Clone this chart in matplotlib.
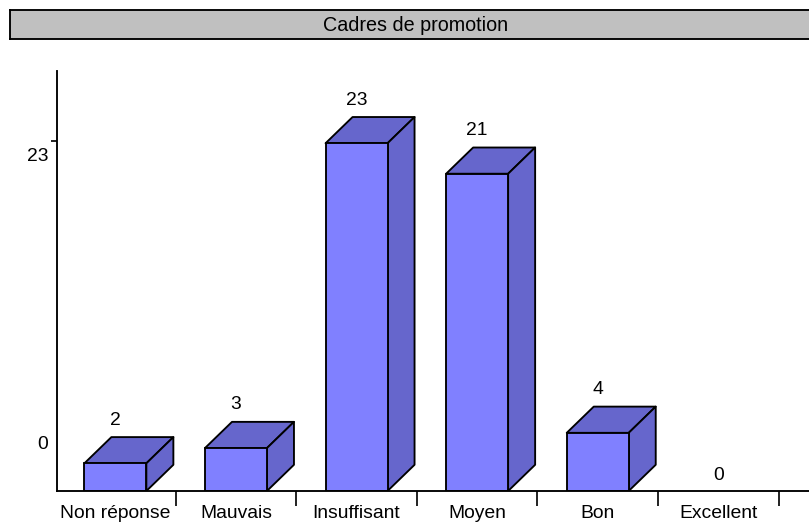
import matplotlib
matplotlib.use("Agg")
import matplotlib.pyplot as plt
from matplotlib.patches import Polygon, Rectangle
from matplotlib.transforms import offset_copy

plt.rcParams['font.family'] = ['Liberation Sans', 'DejaVu Sans']

# Data
categories = ['Non réponse', 'Mauvais', 'Insuffisant', 'Moyen', 'Bon', 'Excellent']
values = [2, 3, 23, 21, 4, 0]
title = 'Cadres de promotion'

FRONT = '#8080FF'
SHADE = '#6666CC'
W, H = 809, 523
FS = 13.9
LW = 1.35

fig = plt.figure(figsize=(W / 100, H / 100), dpi=100)

# Title band
band = fig.add_axes([9.5 / W, 1 - 38.5 / H, (W + 5 - 9.5) / W, 29 / H])
band.set_xticks([])
band.set_yticks([])
band.set_facecolor('#C0C0C0')
for s in band.spines.values():
    s.set_linewidth(LW)
fig.text(415.5 / W, 1 - 25.5 / H, title, ha='center', va='center', fontsize=14.2)

# Plot area
ax = fig.add_axes([57 / W, 32 / H, (W - 57) / W, 420 / H])
ax.set_xlim(-0.484, 5.752)
ax.set_ylim(0.184, 27.74)
ax.patch.set_alpha(0)
ax.spines['top'].set_visible(False)
ax.spines['right'].set_visible(False)
ax.spines['left'].set_linewidth(LW)
ax.spines['bottom'].set_linewidth(LW)

bar_w = 0.514
depth_x = 0.224
depth_y = 1.72
base = ax.get_ylim()[0]

for i, (name, v) in enumerate(zip(categories, values)):
    if v > 0:
        x0, x1 = i - bar_w / 2, i + bar_w / 2
        ax.add_patch(Polygon([(x0, v), (x1, v), (x1 + depth_x, v + depth_y), (x0 + depth_x, v + depth_y)],
                             fc=SHADE, ec='k', lw=LW, joinstyle='round'))
        ax.add_patch(Polygon([(x1, base), (x1, v), (x1 + depth_x, v + depth_y), (x1 + depth_x, base + depth_y)],
                             fc=SHADE, ec='k', lw=LW, joinstyle='round'))
        ax.add_patch(Rectangle((x0, base), bar_w, v - base, fc=FRONT, ec='k', lw=LW))
        ax.annotate(str(v), (i, v + depth_y), xytext=(0, 17 * 0.72), textcoords='offset points',
                    ha='center', va='center', fontsize=FS)
    else:
        ax.annotate(str(v), (i, base), xytext=(0, 15 * 0.72), textcoords='offset points',
                    ha='center', va='center', fontsize=FS)

# x axis: separators between categories, labels centred
ax.set_xticks(range(len(categories)))
ax.set_xticklabels(categories, fontsize=FS)
ax.tick_params(axis='x', which='major', length=0, pad=14 * 0.72)
ax.set_xticks([i + 0.5 for i in range(len(categories))], minor=True)
ax.tick_params(axis='x', which='minor', length=15 * 0.72, width=LW * 0.9)

# y axis: the tick labels sit below the mark, as in the source
ax.set_yticks([23.12])
ax.set_yticklabels([''])
ax.tick_params(axis='y', length=6 * 0.72, width=LW * 0.9)
trans = offset_copy(ax.get_yaxis_transform(), fig=fig, x=-9 * 0.72, y=-13 * 0.72, units='points')
ax.text(0, 23, '23', transform=trans, ha='right', va='center', fontsize=FS)
ax.text(0, 4.1, '0', transform=trans, ha='right', va='center', fontsize=FS)

fig.savefig('out.png', dpi=100)
